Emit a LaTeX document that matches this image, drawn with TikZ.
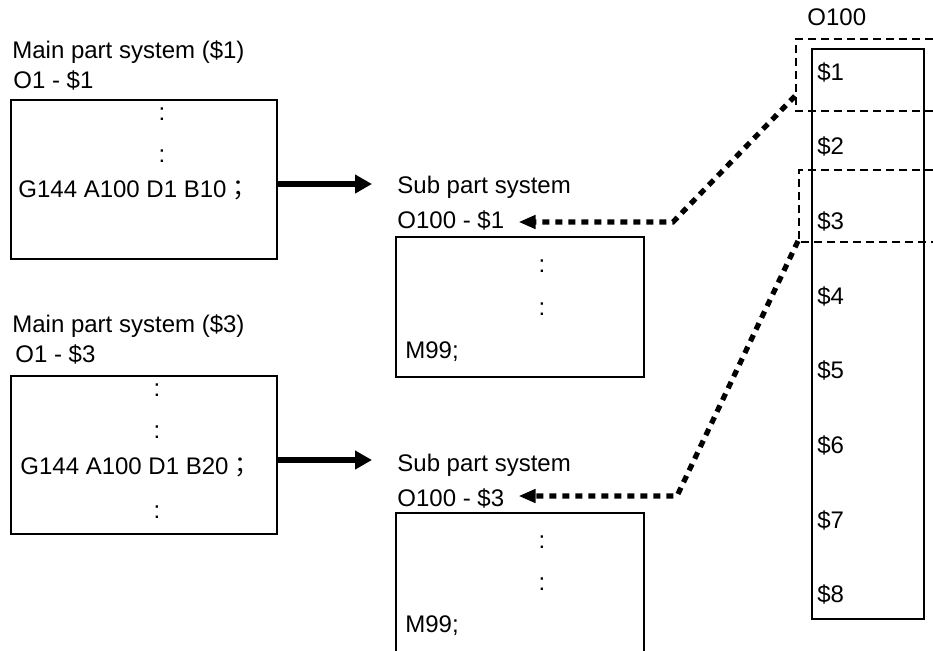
\documentclass[tikz,border=0pt]{standalone}
\usepackage{fontspec}
\setmainfont{Liberation Sans}
\newfontfamily\cjkfont{Noto Sans CJK JP}
\usepackage{tikz}
\usetikzlibrary{
	arrows.meta,
	positioning
}

\begin{document}
\begin{tikzpicture}[x=0.5pt,y=-0.5pt,
		txt/.style={anchor=base west,inner sep=0pt,font=\fontsize{12}{14}\selectfont},
		dots/.style={anchor=base,inner sep=0pt,font=\fontsize{12}{14}\selectfont},
		box/.style={draw,line width=1pt,anchor=north west,inner sep=0pt},
		flow/.style={line width=2.6pt,-{Triangle[length=8.5pt,width=9pt]}},
		link/.style={line width=2.6pt,dash pattern=on 3.5pt off 3pt,-{Triangle[length=8.5pt,width=6.5pt]}},
		sel/.style={line width=0.75pt,dash pattern=on 4pt off 2.5pt}]
		\useasboundingbox (0,0) rectangle (933,650);
		% main part systems
		\node[box,minimum width=133pt,minimum height=79.5pt] (main1) at (10,99) {};
		\node[box,minimum width=133pt,minimum height=79pt] (main2) at (10,375) {};
		\node[txt] (main1lbl) at (12,58) {Main part system (\$1)};
		\node[txt] (main1id) at (13,88) {O1 - \$1};
		\node[dots] (m1a) at (162,120) {:};
		\node[dots] (m1b) at (162,162) {:};
		\node[txt] (m1call) at (18,197) {G144 A100 D1 B10{\cjkfont ；}};
		\node[txt] (main2lbl) at (12,332) {Main part system (\$3)};
		\node[txt] (main2id) at (15,362) {O1 - \$3};
		\node[dots] (m2a) at (157,396) {:};
		\node[dots] (m2b) at (157,438) {:};
		\node[txt] (m2call) at (20,474) {G144 A100 D1 B20{\cjkfont ；}};
		\node[dots] (m2c) at (157,518) {:};
		% sub part systems
		\node[box,minimum width=124pt,minimum height=70pt] (sub1) at (395,236) {};
		\node[box,minimum width=124pt,minimum height=71pt] (sub2) at (395,512) {};
		\node[txt] (sub1lbl) at (397,193) {Sub part system};
		\node[txt] (sub1id) at (397,228) {O100 - \$1};
		\node[dots] (s1a) at (542,272) {:};
		\node[dots] (s1b) at (542,315) {:};
		\node[txt] (s1end) at (405,358) {M99;};
		\node[txt] (sub2lbl) at (397,471) {Sub part system};
		\node[txt] (sub2id) at (397,506) {O100 - \$3};
		\node[dots] (s2a) at (542,548) {:};
		\node[dots] (s2b) at (542,590) {:};
		\node[txt] (s2end) at (405,632) {M99;};
		% O100 column
		\node[box,minimum width=56pt,minimum height=285pt] (col) at (811,48) {};
		\node[txt] (collbl) at (807,25) {O100};
		\node[txt] (d1) at (817,80) {\$1};
		\node[txt] (d2) at (817,154.7) {\$2};
		\node[txt] (d3) at (817,229.4) {\$3};
		\node[txt] (d4) at (817,304.1) {\$4};
		\node[txt] (d5) at (817,378.8) {\$5};
		\node[txt] (d6) at (817,453.5) {\$6};
		\node[txt] (d7) at (817,528.2) {\$7};
		\node[txt] (d8) at (817,602.9) {\$8};
		\draw[sel] (933,39) -| (796,111) -- (933,111);
		\draw[sel] (933,170) -| (799,242) -- (933,242);
		% calls
		\coordinate (a1) at (372,184);
		\coordinate (a2) at (372,460);
		\draw[flow] (main1.east |- a1) -- (a1);
		\draw[flow] (main2.east |- a2) -- (a2);
		\coordinate (s1) at (795,96);
		\coordinate (k1) at (673,222);
		\coordinate (s2) at (798,241);
		\coordinate (k2) at (677,496);
		\draw[link] (s1) -- (k1) -- ([xshift=7pt]sub1id.east |- k1);
		\draw[link] (s2) -- (k2) -- ([xshift=7pt]sub2id.east |- k2);
	\end{tikzpicture}
\end{document}
